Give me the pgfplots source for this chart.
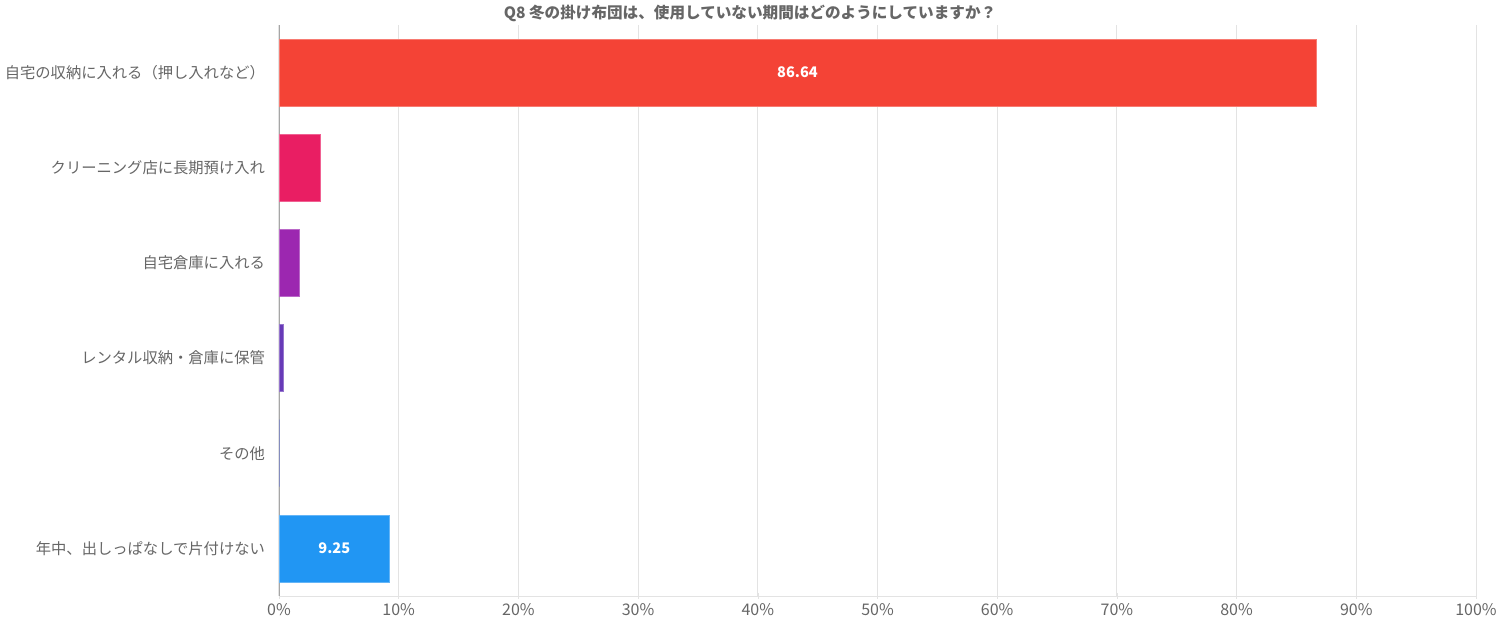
\documentclass[border=0pt]{standalone}
\usepackage{fontspec}
\setmainfont{Noto Sans CJK JP}
\usepackage{pgfplots}
\pgfplotsset{compat=1.18}
\definecolor{cA}{HTML}{F44336}
\definecolor{cB}{HTML}{E91E63}
\definecolor{cC}{HTML}{9C27B0}
\definecolor{cD}{HTML}{673AB7}
\definecolor{cE}{HTML}{3F51B5}
\definecolor{cF}{HTML}{2196F3}
\definecolor{txt}{HTML}{666666}
\definecolor{gridc}{HTML}{E3E3E3}
\begin{document}
\begin{tikzpicture}
\path[use as bounding box] (-139.5pt,-19.5pt) rectangle (610.5pt,298pt);
\begin{axis}[
    at={(0,0)}, anchor=south west,
    scale only axis,
    width=598.5pt, height=285.5pt,
    xmin=0, xmax=100, ymin=-0.5, ymax=5.5,
    xtick={0,10,...,100},
    xticklabel={\pgfmathprintnumber{\tick}\%},
    ytick={0,...,5},
    yticklabels={年中、出しっぱなしで片付けない, その他, レンタル収納・倉庫に保管, 自宅倉庫に入れる, クリーニング店に長期預け入れ, 自宅の収納に入れる（押し入れなど）},
    axis lines=left,
    axis line style={-},
    x axis line style={draw=gridc},
    y axis line style={draw=gray!70},
    xmajorgrids, grid style={draw=gridc, line width=0.5pt},
    major x tick style={draw=gridc},
    major tick length=3pt,
    ytick style={draw=none},
    tick label style={font=\fontsize{7.65}{9}\selectfont, text=txt},
    xticklabel style={font=\fontsize{8}{9}\selectfont, yshift=1pt},
    yticklabel style={xshift=-2pt},
    /pgf/number format/assume math mode=true,
    every axis title shift=0pt,
    title={\bfseries Q8 冬の掛け布団は、使用していない期間はどのようにしていますか？},
    title style={font=\fontsize{7.8}{9}\selectfont, text=txt, at={(0.3935,1)}, anchor=center, yshift=6pt},
]
\addplot[xbar, bar shift=0pt, bar width=33.5pt, fill=cA, draw=cA!70!white] coordinates {(86.64,5)};
\addplot[xbar, bar shift=0pt, bar width=33.5pt, fill=cB, draw=cB!70!white] coordinates {(3.43,4)};
\addplot[xbar, bar shift=0pt, bar width=33.5pt, fill=cC, draw=cC!70!white] coordinates {(1.71,3)};
\addplot[xbar, bar shift=0pt, bar width=33.5pt, fill=cD, draw=cD!70!white] coordinates {(0.34,2)};
\addplot[xbar, bar shift=0pt, bar width=33.5pt, fill=cE, draw=cE!70!white] coordinates {(0,1)};
\addplot[xbar, bar shift=0pt, bar width=33.5pt, fill=cF, draw=cF!70!white] coordinates {(9.25,0)};
\addplot[only marks, mark=none, point meta=explicit symbolic,
    nodes near coords,
    nodes near coords style={anchor=center, text=white, font=\bfseries\fontsize{7.3}{9}\selectfont}]
    table[meta=lab] {
x y lab
43.32 5 86.64
4.625 0 9.25
};
\end{axis}
\end{tikzpicture}
\end{document}
